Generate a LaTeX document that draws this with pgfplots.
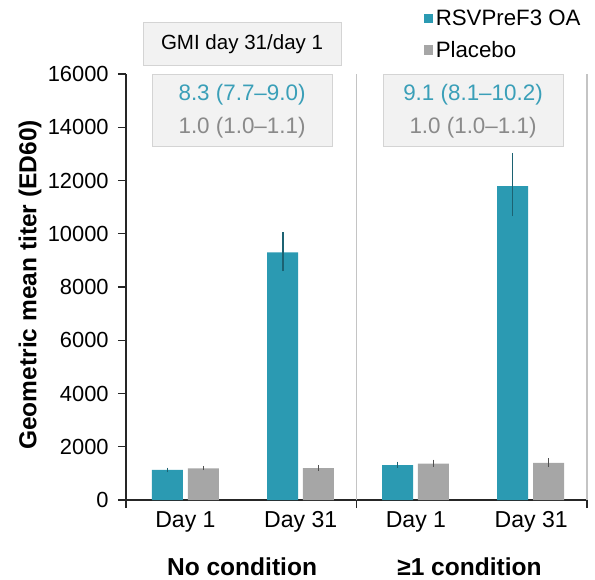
\documentclass[border=0pt]{standalone}
\usepackage{fontspec}
\setmainfont{Liberation Sans}
\usepackage{pgfplots}
\pgfplotsset{compat=1.18}
\usepackage{pgfplotstable}

\definecolor{teal1}{HTML}{2B9AB2}
\definecolor{grey1}{HTML}{A6A6A6}
\definecolor{tealerr}{HTML}{1C6272}
\definecolor{greyerr}{HTML}{505050}
\definecolor{boxfill}{HTML}{F2F2F2}
\definecolor{boxdraw}{HTML}{D4D4D4}
\definecolor{tealtxt}{HTML}{3A9FB8}
\definecolor{greytxt}{HTML}{8A8A8A}
\definecolor{sepline}{HTML}{C4C4C4}

% x: bar position, y: GMT, ep/em: upper/lower error
\pgfplotstableread{
x      y      ep    em
0.360  1130   90    90
1.360  9300   750   700
2.356  1310   130   110
3.354  11790  1250  1130
}\vaccine
\pgfplotstableread{
x      y      ep    em
0.672  1190   90    70
1.670  1200   120   100
2.668  1370   150   130
3.666  1390   170   150
}\placebo

\begin{document}
\begin{tikzpicture}
\begin{axis}[
    scale only axis,
    width=345.75pt, height=319.5pt,
    xmin=0, xmax=4, ymin=0, ymax=16000,
    clip=false,
    axis x line=bottom, axis y line=left,
    axis line style={-, line width=1pt, color=black!85},
    ytick={0,2000,...,16000},
    scaled y ticks=false,
    yticklabel style={/pgf/number format/1000 sep={}, font=\fontsize{16.4}{19}\selectfont, xshift=-3.5pt},
    /pgf/number format/assume math mode=true,
    tick style={line width=1pt, color=black!85},
    tick align=outside,
    major tick length=6pt,
    xtick={0,2,4}, xticklabels={},
    extra x ticks={0.516,1.516,2.516,3.516},
    extra x tick labels={Day 1,Day 31,Day 1,Day 31},
    extra x tick style={major tick length=0pt,
        xticklabel style={font=\fontsize{17.3}{20}\selectfont, yshift=-5pt}},
    ylabel={\textbf{Geometric mean titer (ED60)}},
    ylabel style={at={(axis description cs:-0.208,0.505)}, anchor=center,
        font=\fontsize{18.4}{22}\selectfont},
    ybar, bar width=0.269, bar shift=0pt,
    legend style={at={(axis description cs:0.646,1.157)}, anchor=north west,
        draw=none, fill=none, font=\fontsize{16.7}{20}\selectfont,
        row sep=6pt, inner sep=0pt},
    legend cell align=left,
    legend image code/.code={\fill[#1] (0pt,-3.4pt) rectangle (6.8pt,3.4pt);},
]
\addplot[fill=teal1, draw=none,
    error bars/.cd, y dir=both, y explicit,
    error mark=none, error bar style={line width=1.3pt, color=tealerr}]
    table[x=x, y=y, y error plus=ep, y error minus=em] {\vaccine};
\addlegendentry{RSVPreF3 OA}
\addplot[fill=grey1, draw=none,
    error bars/.cd, y dir=both, y explicit,
    error mark=none, error bar style={line width=1.3pt, color=greyerr}]
    table[x=x, y=y, y error plus=ep, y error minus=em] {\placebo};
\addlegendentry{Placebo}

\draw[sepline, line width=1pt] (axis cs:2,0) -- (axis cs:2,16000);
\draw[sepline, line width=1pt] (axis cs:4,0) -- (axis cs:4,16000);

\node[fill=boxfill, draw=boxdraw, line width=0.75pt,
    minimum width=148.5pt, minimum height=32.25pt, inner sep=0pt,
    font=\fontsize{15.4}{18}\selectfont]
    at (axis cs:1.007,17108) {GMI day 31/day 1};
\node[fill=boxfill, draw=boxdraw, line width=0.75pt,
    minimum width=135pt, minimum height=54pt, inner sep=0pt, align=center,
    font=\fontsize{16.8}{24.75}\selectfont]
    at (axis cs:1.007,14611) {\textcolor{tealtxt}{8.3 (7.7–9.0)}\\\textcolor{greytxt}{1.0 (1.0–1.1)}};
\node[fill=boxfill, draw=boxdraw, line width=0.75pt,
    minimum width=135pt, minimum height=54pt, inner sep=0pt, align=center,
    font=\fontsize{16.8}{24.75}\selectfont]
    at (axis cs:3.011,14611) {\textcolor{tealtxt}{9.1 (8.1–10.2)}\\\textcolor{greytxt}{1.0 (1.0–1.1)}};

\node[font=\bfseries\fontsize{18.4}{22}\selectfont] at (axis cs:1.007,-2520) {No condition};
\node[font=\bfseries\fontsize{18.4}{22}\selectfont] at (axis cs:2.98,-2520) {≥1 condition};
\end{axis}
\pgfresetboundingbox
\path[use as bounding box] (-94.5pt,-59.25pt) rectangle (351.75pt,375pt);
\end{tikzpicture}
\end{document}
